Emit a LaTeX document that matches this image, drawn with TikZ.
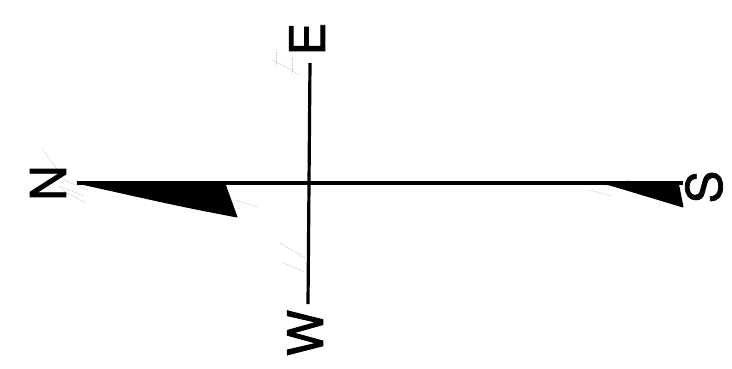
\documentclass[tikz,border=0pt]{standalone}
\usepackage{fontspec}
\setmainfont{TeX Gyre Heros}
\newfontfamily\markerfont[FakeBold=1.6]{TeX Gyre Heros}
\begin{document}
\begin{tikzpicture}[x=1pt,y=-1pt,
  axis/.style={line width=3.2pt,black},
  pointer/.style={fill=black,draw=black,line width=1pt,line join=round},
  letter/.style={rotate=90,inner sep=0pt,font=\markerfont\fontsize{49}{49}\selectfont},
  sketch/.style={gray!45,line width=0.6pt,dash pattern=on 1.5pt off 1pt}]
\useasboundingbox (0,0) rectangle (732,368);
% faint sketch marks (under the ink)
\draw[sketch] (42,148) .. controls (50,160) .. (60,172);
\draw[sketch] (64,180) -- (88,190);
\draw[sketch] (58,186) -- (84,196);
\draw[sketch] (62,190) -- (86,203);
\draw[sketch] (236,200) -- (258,207);
\draw[sketch] (273,60) -- (300,75);
\draw[sketch] (276,66) -- (276,52);
\draw[sketch] (292,58) -- (292,74);
\draw[sketch] (280,243) -- (305,258);
\draw[sketch] (282,262) -- (305,272);
\draw[sketch] (590,190) -- (612,196);
\draw[sketch] (605,186) -- (630,180);
% labels
\node[letter] (N) at (48,183) {N};
\node[letter] (S) at (704,187) {S};
\node[letter] (E) at (307,39) {E};
\node[letter] (W) at (305,333) {W};
% axis end points
\coordinate (nEnd) at (77,183);
\coordinate (sEnd) at (683,183);
\coordinate (eEnd) at (310,63);
\coordinate (wEnd) at (308,304);
\draw[axis] (nEnd) -- (sEnd);
\draw[axis] (eEnd) -- (wEnd);
% pointers
\fill[pointer] (nEnd) -- (225,184) -- (237,217) .. controls (180,206) .. (nEnd) -- cycle;
\fill[pointer] (603,183) -- (678,182) -- (683,207) .. controls (640,194) .. (603,183) -- cycle;
\end{tikzpicture}
\end{document}
